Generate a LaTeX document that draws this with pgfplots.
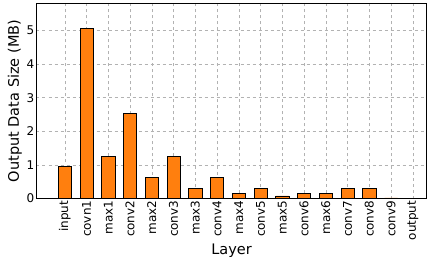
\documentclass[border=0pt]{standalone}
\usepackage{pgfplots}
\pgfplotsset{compat=1.18}
\usepackage{fontspec}
\setmainfont{DejaVu Sans}
\definecolor{barorange}{HTML}{FF7F0E}
\begin{document}
\fontsize{12}{14}\selectfont
\begin{tikzpicture}
\begin{axis}[
  scale only axis,
  width=390pt, height=195pt,
  xmin=-1.3, xmax=16.63,
  ymin=0, ymax=5.8,
  ytick={0,1,2,3,4,5},
  xtick={0,...,16},
  xticklabels={input,covn1,max1,conv2,max2,conv3,max3,conv4,max4,conv5,max5,conv6,max6,conv7,conv8,conv9,output},
  x tick label style={rotate=90, anchor=east, font=\fontsize{12}{14}\selectfont, inner sep=2pt},
  y tick label style={font=\fontsize{12}{14}\selectfont, inner sep=2pt},
  /pgf/number format/assume math mode=true,
  xlabel={Layer},
  ylabel={Output Data Size (MB)},
  label style={font=\fontsize{14.5}{17}\selectfont},
  xlabel style={at={([yshift=-52pt]axis description cs:0.5,0)}, anchor=center},
  ylabel style={at={([xshift=-21.5pt]axis description cs:0,0.5)}, anchor=center},
  grid=major,
  major grid style={gray!60, dashed, line width=0.5pt},
  axis line style={black, line width=0.8pt},
  major tick length=0pt,
  xtick pos=bottom, ytick pos=left,
]
\addplot[ybar, bar width=0.6, fill=barorange, draw=black, line width=0.6pt] coordinates {
(0,0.95) (1,5.05) (2,1.26) (3,2.52) (4,0.62) (5,1.26) (6,0.31) (7,0.62) (8,0.15)
(9,0.31) (10,0.08) (11,0.15) (12,0.15) (13,0.31) (14,0.31) (15,0.02) (16,0.004)
};
\end{axis}
\pgfresetboundingbox
\path ([shift={(-36.5pt,-66pt)}]current axis.south west) rectangle ([shift={(0.5pt,3.5pt)}]current axis.north east);
\end{tikzpicture}
\end{document}
